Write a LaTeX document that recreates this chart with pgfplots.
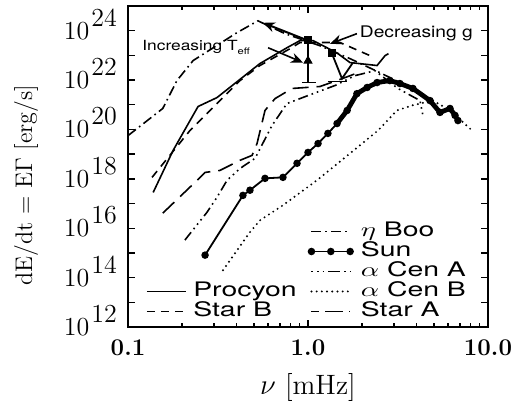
\documentclass[border=0pt]{standalone}
\usepackage{fontspec}
\usepackage{graphicx}
\usepackage{pgfplots}
\pgfplotsset{compat=1.18}
\usetikzlibrary{arrows.meta}
\newfontfamily\hfont{TeX Gyre Heros}

% y values are log10 of dE/dt in erg/s
\newcommand{\tl}[1]{\fontsize{13}{15}\selectfont 10\hspace{1pt}\raisebox{6.5pt}{#1}}
\newcommand{\wide}[1]{\scalebox{1.42}[1]{#1}}
\begin{document}
\begin{tikzpicture}
\begin{axis}[
    scale only axis,
    width=180pt, height=160.5pt,
    xmode=log, xmin=0.1, xmax=10,
    ymin=12, ymax=25,
    axis line style={line width=0.9pt},
    every tick/.style={black, line width=0.7pt},
    major tick length=3.5pt, minor tick length=1.8pt,
    xtick={0.1,1,10},
    xticklabels={\textbf{0.1},\textbf{1.0},\textbf{10.0}},
    ytick={12,13,...,25},
    yticklabels={\tl{12},,\tl{14},,\tl{16},,\tl{18},,\tl{20},,\tl{22},,\tl{24},},
    tick label style={font=\fontsize{12}{14}\selectfont},
    yticklabel style={font=\fontsize{13}{15}\selectfont, anchor=base east, yshift=-4.2pt, xshift=-2pt},
    xticklabel style={yshift=-3pt},
    xlabel={$\nu$ [mHz]},
    ylabel={dE/dt\ =\ E$\Gamma$ [erg/s]},
    xlabel style={font=\fontsize{14}{16}\selectfont, at={(axis description cs:0.5,-0.19)}, anchor=center},
    ylabel style={font=\fontsize{12}{14}\selectfont, at={(axis description cs:-0.283,0.442)}, anchor=center, rotate=0},
    legend columns=2,
    legend cell align=left,
    legend style={draw=none, fill=none, inner sep=0pt, outer sep=0pt,
        at={(axis description cs:0.05,0.014)}, anchor=south west,
        font=\hfont\fontsize{10}{12}\selectfont, row sep=-1pt,
        nodes={inner sep=0.5pt, text height=7.5pt, text depth=2.5pt},
        /tikz/every odd column/.append style={column sep=3pt},
        /tikz/every even column/.append style={column sep=5pt}},
    legend image code/.code={\draw[#1] (0cm,0cm) -- (0.68cm,0cm);},
]

% eta Boo
\addplot[black, line width=0.8pt, dash pattern=on 5pt off 2pt on 0.8pt off 2pt, forget plot] coordinates {
(0.1,19.75) (0.156,20.85) (0.187,21.98) (0.23,22.79) (0.403,23.92) (0.527,24.40)
(0.745,23.88) (1.166,23.39) (1.71,22.87) (2.51,22.30) (3.245,21.90) (4.19,21.49)};

% Procyon
\addplot[black, line width=0.8pt, forget plot] coordinates {
(0.138,17.45) (0.178,19.15) (0.245,20.93) (0.312,21.29) (0.541,22.67) (0.764,23.31)
(0.903,23.60) (1.066,23.60) (1.275,23.31) (1.468,23.07) (1.71,22.71) (2.42,22.59)
(2.68,22.99) (2.80,23.07)};

% Star B
\addplot[black, line width=0.8pt, dash pattern=on 4pt off 3pt, forget plot] coordinates {
(0.136,18.06) (0.221,19.96) (0.312,21.05) (0.419,21.98) (0.541,22.59) (0.794,23.27)
(0.903,23.52) (1.507,23.52) (2.21,22.99)};

% Star A
\addplot[black, line width=0.8pt, dash pattern=on 8pt off 4pt, forget plot] coordinates {
(0.156,16.61) (0.242,17.94) (0.268,18.26) (0.324,18.34) (0.419,18.75) (0.489,18.95)
(0.521,19.43) (0.577,20.77) (0.656,21.25) (0.815,21.66) (1.166,21.74) (1.606,22.10)
(1.896,22.30)};

% alpha Cen A
\addplot[black, line width=0.8pt, dash pattern=on 5pt off 2pt on 0.8pt off 2pt on 0.8pt off 2pt on 0.8pt off 2pt, forget plot] coordinates {
(0.207,15.52) (0.275,16.65) (0.312,17.25) (0.355,17.94) (0.419,18.42) (0.508,18.83)
(0.631,20.16) (0.764,21.05) (1.066,21.45) (1.413,21.78) (1.824,22.18) (2.355,22.38)
(3.16,21.66) (4.19,21.17) (4.35,20.57)};

% alpha Cen B
\addplot[black, line width=1.1pt, line cap=round, dash pattern=on 0pt off 2.6pt, forget plot] coordinates {
(0.337,14.30) (0.476,15.84) (0.541,16.32) (0.726,16.93) (1.12,17.94) (1.71,19.03)
(2.45,19.96) (3.12,20.77) (3.78,20.97) (4.95,21.17) (5.77,20.89) (6.81,20.48) (8.15,19.96)};

% Sun
\addplot[black, line width=0.9pt, mark=*, mark size=1.4pt, forget plot] coordinates {
(0.268,14.91) (0.435,17.33) (0.476,17.54) (0.577,18.02) (0.726,18.06) (0.869,18.63)
(1.0,19.07) (1.137,19.43) (1.29,19.84) (1.45,20.24) (1.65,20.77) (1.87,21.45)
(2.13,21.70) (2.42,21.90) (2.85,21.98) (3.24,21.86) (3.83,21.66) (4.76,21.17)
(5.41,20.69) (6.15,20.85) (6.56,20.57) (6.81,20.36)};
\addplot[black, line width=2.4pt, line join=round, forget plot] coordinates {
(1.45,20.24) (1.65,20.77) (1.87,21.45) (2.13,21.70) (2.42,21.90) (2.85,21.98)
(3.24,21.86) (3.83,21.66) (4.76,21.17) (5.41,20.69) (6.15,20.85) (6.56,20.57) (6.81,20.36)};

% bars and markers near the peaks
\addplot[black, line width=0.9pt, forget plot] coordinates {(1.0,23.60) (1.0,21.90)};
\addplot[black, line width=0.9pt, forget plot] coordinates {(0.926,21.90) (1.107,21.90)};
\addplot[black, line width=0.9pt, forget plot] coordinates {(1.359,23.07) (1.545,22.06) (1.778,22.71)};
\addplot[black, line width=0.9pt, forget plot] coordinates {(1.29,21.94) (1.647,21.94)};
\addplot[black, only marks, mark=triangle*, mark size=2.3pt, forget plot] coordinates {(1.0,22.78)};
\addplot[black, only marks, mark=square*, mark size=1.8pt, forget plot] coordinates {(1.0,23.62) (1.36,23.10)};

% arrows and notes
\draw[line width=1pt, -{Stealth[length=6pt,width=5pt]}] (axis cs:1.0,23.60) -- (axis cs:0.562,24.32);
\draw[line width=0.8pt, -{Stealth[length=6pt,width=5pt]}] (axis cs:0.6,23.31) -- (axis cs:0.938,22.71);
\draw[line width=0.8pt, -{Stealth[length=6pt,width=5pt]}] (axis cs:1.87,23.88) -- (axis cs:1.325,23.47);
\node[font=\hfont\fontsize{7}{9}\selectfont] at (axis cs:0.239,23.31) {\scalebox{1.24}[1]{Increasing T\raisebox{-0.6ex}{\fontsize{4.5}{5}\selectfont eff}}};
\node[font=\hfont\fontsize{8}{10}\selectfont] at (axis cs:4.0,23.88) {\scalebox{1.2}[1]{Decreasing g}};

% legend, filled row by row
\addlegendimage{empty legend}\addlegendentry{}
\addlegendimage{black, line width=0.8pt, dash pattern=on 5pt off 2pt on 0.8pt off 2pt}\addlegendentry{\wide{$\eta$ Boo}}
\addlegendimage{empty legend}\addlegendentry{}
\addlegendimage{black, line width=0.9pt, legend image code/.code={
    \draw[black, line width=0.9pt] (0cm,0cm) -- (0.68cm,0cm);
    \foreach \p in {0,0.34,0.68} \fill (\p cm,0cm) circle (1.4pt);}}\addlegendentry{\wide{Sun}}
\addlegendimage{empty legend}\addlegendentry{}
\addlegendimage{black, line width=0.8pt, dash pattern=on 0.8pt off 2pt on 0.8pt off 2pt on 0.8pt off 2pt on 6pt off 2pt}\addlegendentry{\wide{$\alpha$ Cen A}}
\addlegendimage{black, line width=0.8pt}\addlegendentry{\wide{Procyon}}
\addlegendimage{black, line width=1.1pt, line cap=round, dash pattern=on 0pt off 2.6pt}\addlegendentry{\wide{$\alpha$ Cen B}}
\addlegendimage{black, line width=0.8pt, dash pattern=on 4pt off 3pt}\addlegendentry{\wide{Star B}}
\addlegendimage{black, line width=0.8pt, dash pattern=on 4pt off 3pt on 9pt off 3pt}\addlegendentry{\wide{Star A}}

\coordinate (bbsw) at (axis description cs:-0.3556,-0.2492);
\coordinate (bbne) at (axis description cs:1.0806,1.0187);
\end{axis}
\pgfresetboundingbox
\path[use as bounding box] (bbsw) rectangle (bbne);
\end{tikzpicture}
\end{document}
